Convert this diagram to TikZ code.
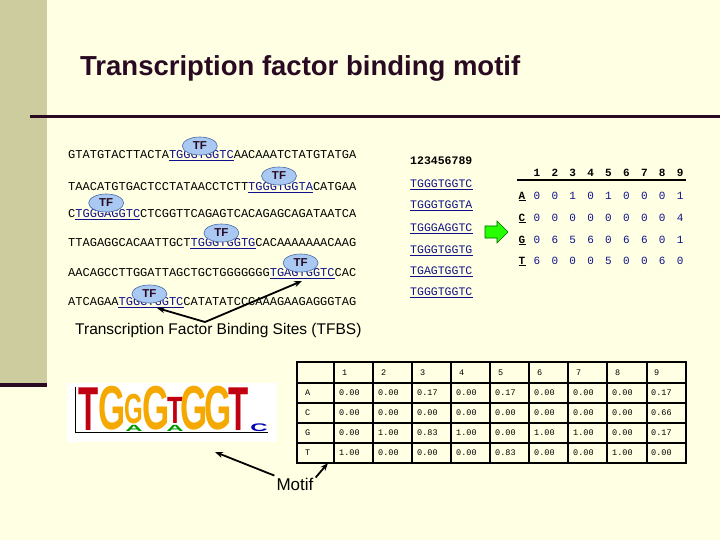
\documentclass[tikz,border=0pt]{standalone}
\usepackage{fontspec}
\setmainfont{Liberation Sans}
\newfontfamily\seqfont{Liberation Mono}
\usetikzlibrary{arrows.meta,shapes.geometric}
\definecolor{bgc}{HTML}{FFFFE3}
\definecolor{stripe}{HTML}{CCCC9E}
\definecolor{dark}{HTML}{2A0A22}
\definecolor{motc}{HTML}{10108A}
\definecolor{tfc}{HTML}{A9C9F2}
\definecolor{tfd}{HTML}{4A6AA8}
\definecolor{logored}{HTML}{C00010}
\definecolor{logoor}{HTML}{F5A800}
\tikzset{
  seq/.style={anchor=west,inner sep=0pt,font=\seqfont\fontsize{12}{12}\selectfont},
  mot/.style={seq,text=motc},
  uline/.style={motc,line width=1.2pt},
  tf/.style={ellipse,fill=tfc,draw=tfd,line width=0.6pt,minimum width=35pt,minimum height=18pt,inner sep=0pt,font=\bfseries\fontsize{11.5}{11.5}\selectfont,text=dark},
  val/.style={inner sep=0pt,font=\seqfont\fontsize{11}{11}\selectfont,text=motc},
  hdr/.style={inner sep=0pt,font=\seqfont\bfseries\fontsize{11}{11}\selectfont},
  cell/.style={anchor=west,inner sep=0pt,font=\seqfont\fontsize{8.5}{8.5}\selectfont},
  arr/.style={-{Stealth[length=8pt,width=6pt]},line width=1.8pt},
  lbl/.style={inner sep=0pt,font=\fontsize{15.5}{15.5}\selectfont},
  logo/.style={inner sep=0pt,font=\bfseries\fontsize{20}{20}\selectfont,anchor=south}
}
\begin{document}
\begin{tikzpicture}[x=1pt,y=-1pt]
\useasboundingbox (0,0) rectangle (720,540);
\fill[bgc] (0,0) rectangle (720,540);
\fill[stripe] (0,0) rectangle (47,383);
\fill[dark] (0,383) rectangle (47,387);
\node[anchor=west,inner sep=0pt,text=dark,font=\bfseries\fontsize{27.5}{27.5}\selectfont] (title) at (80,68) {Transcription factor binding motif};
\draw[dark,line width=3pt] (30,117) -- (720,117);
% sequences
\foreach \i/\y/\pre/\m/\post/\tx/\ty in {
 1/155/GTATGTACTTACTA/TGGGTGGTC/AACAAATCTATGTATGA/14/146,
 2/187/TAACATGTGACTCCTATAACCTCTT/TGGGTGGTA/CATGAA/25/176,
 3/214/C/TGGGAGGTC/CTCGGTTCAGAGTCACAGAGCAGATAATCA/1/203,
 4/243/TTAGAGGCACAATTGCT/TGGGTGGTG/CACAAAAAAACAAG/17/233,
 5/273/AACAGCCTTGGATTAGCTGCTGGGGGGG/TGAGTGGTC/CAC/28/263,
 6/302/ATCAGAA/TGGGTGGTC/CATATATCCCAAAGAAGAGGGTAG/7/294}{
  \node[seq] (p\i) at (68,\y) {\pre};
  \node[mot] (m\i) at (68+7.2*\tx,\y) {\m};
  \node[seq] (s\i) at (68+7.2*\tx+64.8,\y) {\post};
  \draw[uline] ([yshift=-1.5pt]m\i.south west) -- ([yshift=-1.5pt]m\i.south east);
  \node[tf] (tf\i) at (68+7.2*\tx+31,\ty) {TF};
}
% middle list
\node[seq,font=\seqfont\bfseries\fontsize{11.5}{12}\selectfont] (nums) at (410,161) {123456789};
\foreach \j/\y/\m in {1/184/TGGGTGGTC,2/205/TGGGTGGTA,3/228/TGGGAGGTC,4/250/TGGGTGGTG,5/271/TGAGTGGTC,6/292/TGGGTGGTC}{
  \node[mot,font=\seqfont\fontsize{11.5}{12}\selectfont] (l\j) at (410,\y) {\m};
  \draw[uline] ([yshift=-1.5pt]l\j.south west) -- ([yshift=-1.5pt]l\j.south east);
}
% green arrow
\fill[green!80!lime,draw=green!40!black,line width=0.6pt] (485,226) -- (497,226) -- (497,221) -- (508,232) -- (497,243) -- (497,238) -- (485,238) -- cycle;
% count matrix
\foreach \c in {1,...,9}{ \node[hdr] (h\c) at (519+17.9*\c,173) {\c}; }
\draw[line width=1.3pt] (517,180) -- (686,180);
\foreach \r/\y/\vals in {A/196/{0,0,1,0,1,0,0,0,1},C/218/{0,0,0,0,0,0,0,0,4},G/240/{0,6,5,6,0,6,6,0,1},T/261/{6,0,0,0,5,0,0,6,0}}{
  \node[hdr] (r\r) at (522,\y) {\r};
  \draw[line width=1pt] ([yshift=-1pt]r\r.south west) -- ([yshift=-1pt]r\r.south east);
  \foreach \v [count=\c] in \vals { \node[val] (v\r\c) at (519+17.9*\c,\y) {\v}; }
}
% TFBS label
\node[lbl,anchor=west] (tfbs) at (75,330) {Transcription Factor Binding Sites (TFBS)};
\coordinate (tfbsa) at (205,322);
\draw[arr] (tfbsa) -- (157,308);
\draw[arr] (tfbsa) -- (302,281);
% logo
\fill[white] (67,383) rectangle (277,442);
\draw[black,line width=0.5pt] (75,387) -- (75,432) -- (268,432);
\node[logo,text=logored,yscale=3.1,xscale=1.65] (L1) at (89,431) {T};
\node[logo,text=logoor,yscale=3.1,xscale=1.75] (L2) at (112,431) {G};
\node[logo,text=logoor,yscale=2.1,xscale=1.2] (L3) at (134,424) {G};
\node[logo,text=green!60!black,yscale=0.45,xscale=1.2] (L3a) at (134,432) {A};
\node[logo,text=logoor,yscale=3.1,xscale=1.75] (L4) at (156,431) {G};
\node[logo,text=logored,yscale=1.9,xscale=1.3] (L5) at (175,424) {T};
\node[logo,text=green!60!black,yscale=0.45,xscale=1.2] (L5a) at (175,432) {A};
\node[logo,text=logoor,yscale=3.1,xscale=1.75] (L6) at (194,431) {G};
\node[logo,text=logoor,yscale=3.1,xscale=1.75] (L7) at (218,431) {G};
\node[logo,text=logored,yscale=3.1,xscale=1.65] (L8) at (239,431) {T};
\node[logo,text=blue!70!black,yscale=0.55,xscale=1.2] (L9) at (259,432) {C};
% probability table
\foreach \yy in {383,403,423,443} \draw[line width=1.4pt] (297,\yy) -- (686,\yy);
\foreach \xx in {334,373,412,451,490,529,568,607,647} \draw[line width=1.4pt] (\xx,362) -- (\xx,463);
\draw[line width=2.4pt] (297,362) rectangle (686,463);
\foreach \c in {1,...,9}{ \node[cell] (th\c) at (342+39*\c-39,372.5) {\c}; }
\foreach \r/\y/\vals in {A/393/{0.00,0.00,0.17,0.00,0.17,0.00,0.00,0.00,0.17},C/413/{0.00,0.00,0.00,0.00,0.00,0.00,0.00,0.00,0.66},G/433/{0.00,1.00,0.83,1.00,0.00,1.00,1.00,0.00,0.17},T/453/{1.00,0.00,0.00,0.00,0.83,0.00,0.00,1.00,0.00}}{
  \node[cell] (tr\r) at (305,\y) {\r};
  \foreach \v [count=\c] in \vals { \node[cell] (t\r\c) at (339+39*\c-39,\y) {\v}; }
}
% Motif label
\node[lbl,font=\fontsize{17}{17}\selectfont] (motif) at (295,484) {Motif};
\draw[arr] (motif.north west) ++(-2,-2) -- (215,452);
\draw[arr] ([xshift=2pt]motif.north east) -- (328,463);
\end{tikzpicture}
\end{document}
